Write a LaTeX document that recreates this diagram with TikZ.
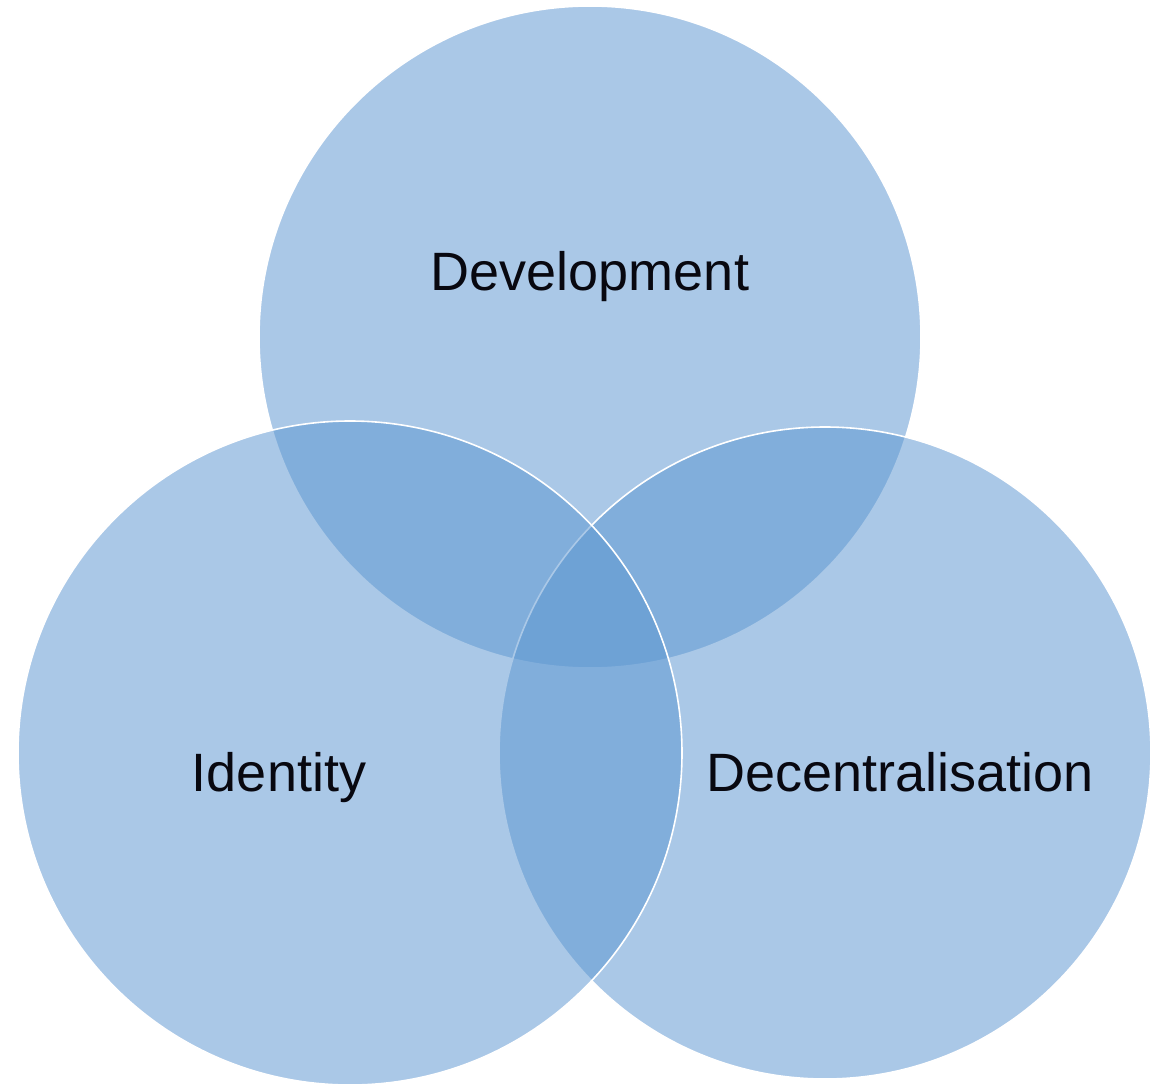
\documentclass[tikz,border=0pt]{standalone}
\usepackage{fontspec}
\setmainfont{Liberation Sans}
\definecolor{venn}{RGB}{93,151,209}
\definecolor{txt}{RGB}{8,8,16}
\begin{document}
\begin{tikzpicture}[x=1pt,y=-1pt,
  vcircle/.style={fill=venn,fill opacity=0.52,draw=white,draw opacity=1,line width=1.6pt},
  lbl/.style={font=\fontsize{54}{60}\selectfont,text=txt,inner sep=0pt,anchor=base}]
\useasboundingbox (0,0) rectangle (1151,1086);
\fill[white] (0,0) rectangle (1151,1086);
\path[vcircle] (590,337) circle[radius=331];
\path[vcircle] (825,753) circle[radius=326];
\path[vcircle] (350,753) circle[radius=332];
\node[lbl] (dev) at (590,290) {Development};
\node[lbl] (ide) at (279,791) {Identity};
\node[lbl] (dec) at (900,791) {Decentralisation};
\end{tikzpicture}
\end{document}
